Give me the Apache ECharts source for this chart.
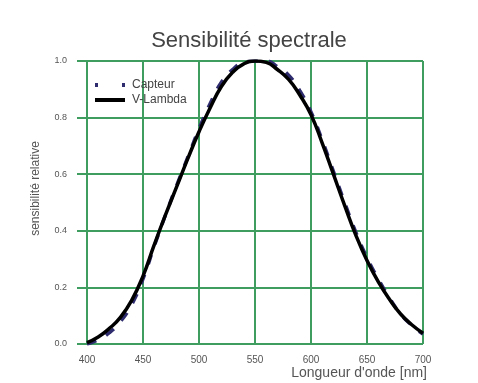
<!DOCTYPE html>
<html>
<head>
<meta charset="utf-8">
<script src="https://cdn.jsdelivr.net/npm/echarts@6/dist/echarts.min.js"></script>
<style>html,body{margin:0;padding:0;background:#fff;}#c{width:478px;height:383px;}</style>
</head>
<body>
<div id="c"></div>
<script>
var wavelengths = [400,410,420,430,440,450,460,470,480,490,500,510,520,530,540,550,560,570,580,590,600,610,620,630,640,650,660,670,680,690,700];
var vLambda =     [0.005,0.025,0.055,0.095,0.155,0.24,0.35,0.455,0.555,0.655,0.75,0.835,0.91,0.96,0.99,1.0,0.995,0.97,0.935,0.88,0.81,0.71,0.6,0.49,0.385,0.295,0.22,0.158,0.106,0.068,0.038];
var capteur =     [0.0,0.015,0.04,0.08,0.14,0.23,0.345,0.455,0.56,0.66,0.76,0.85,0.925,0.97,0.995,1.0,1.0,0.98,0.95,0.895,0.82,0.72,0.61,0.5,0.395,0.305,0.23,0.163,0.106,0.066,0.035];
var xTicks = [400,450,500,550,600,650,700];
var yTicks = [0,0.2,0.4,0.6,0.8,1.0];

function pairs(xs, ys){ return xs.map(function(x,i){ return [x, ys[i]]; }); }

var green = '#3f9d60';
var navy = '#2e2b6e';
var chart = echarts.init(document.getElementById('c'));
chart.setOption({
  backgroundColor: '#fff',
  animation: false,
  title: {
    text: 'Sensibilité spectrale',
    left: 244, top: 25, textAlign: 'center',
    textStyle: {fontFamily: 'Liberation Sans', fontSize: 22, fontWeight: 'normal', color: '#444'}
  },
  legend: {
    orient: 'vertical', left: 93, top: 79, padding: 0, itemGap: 3, itemWidth: 30, itemHeight: 12,
    textStyle: {fontFamily: 'Liberation Sans', fontSize: 12, color: '#444', padding: [0, 0, 0, 2]},
    data: [
      {name: 'Capteur', itemStyle: {opacity: 0}, lineStyle: {type: [3, 24], width: 4, color: navy}},
      {name: 'V-Lambda', itemStyle: {opacity: 0}, lineStyle: {width: 4, color: '#000'}}
    ]
  },
  grid: {left: 87, right: 55, top: 61, bottom: 39},
  xAxis: {
    type: 'value', min: xTicks[0], max: xTicks[xTicks.length-1], interval: 50,
    name: "Longueur d'onde [nm]", nameLocation: 'end', nameGap: 4,
    nameTextStyle: {fontFamily: 'Liberation Sans', fontSize: 14, color: '#555', align: 'right', verticalAlign: 'top', padding: [22, 0, 0, 0]},
    axisLine: {show: false}, axisTick: {show: false},
    axisLabel: {margin: 11, fontFamily: 'Liberation Sans', fontSize: 10, color: '#555'},
    splitLine: {show: true, lineStyle: {color: green, width: 2}}
  },
  yAxis: {
    type: 'value', min: yTicks[0], max: yTicks[yTicks.length-1], interval: 0.2,
    name: 'sensibilité relative', nameLocation: 'middle', nameGap: 45,
    nameTextStyle: {fontFamily: 'Liberation Sans', fontSize: 12, color: '#555', padding: [0, 0, 0, 28]},
    axisLine: {show: false},
    axisTick: {show: true, length: 10, lineStyle: {color: green, width: 2}},
    axisLabel: {margin: 20, fontFamily: 'Liberation Sans', fontSize: 9, color: '#555',
      formatter: function(v){ return v.toFixed(1); }},
    splitLine: {show: true, lineStyle: {color: green, width: 2}}
  },
  series: [
    {name: 'Capteur', type: 'line', smooth: true, symbol: 'none', data: pairs(wavelengths, capteur),
      lineStyle: {type: [10, 11], width: 3.5, color: navy}, itemStyle: {color: navy}, z: 2},
    {name: 'V-Lambda', type: 'line', smooth: true, symbol: 'none', data: pairs(wavelengths, vLambda),
      lineStyle: {width: 3.5, color: '#000'}, itemStyle: {color: '#000'}, z: 3}
  ]
});
</script>
</body>
</html>
